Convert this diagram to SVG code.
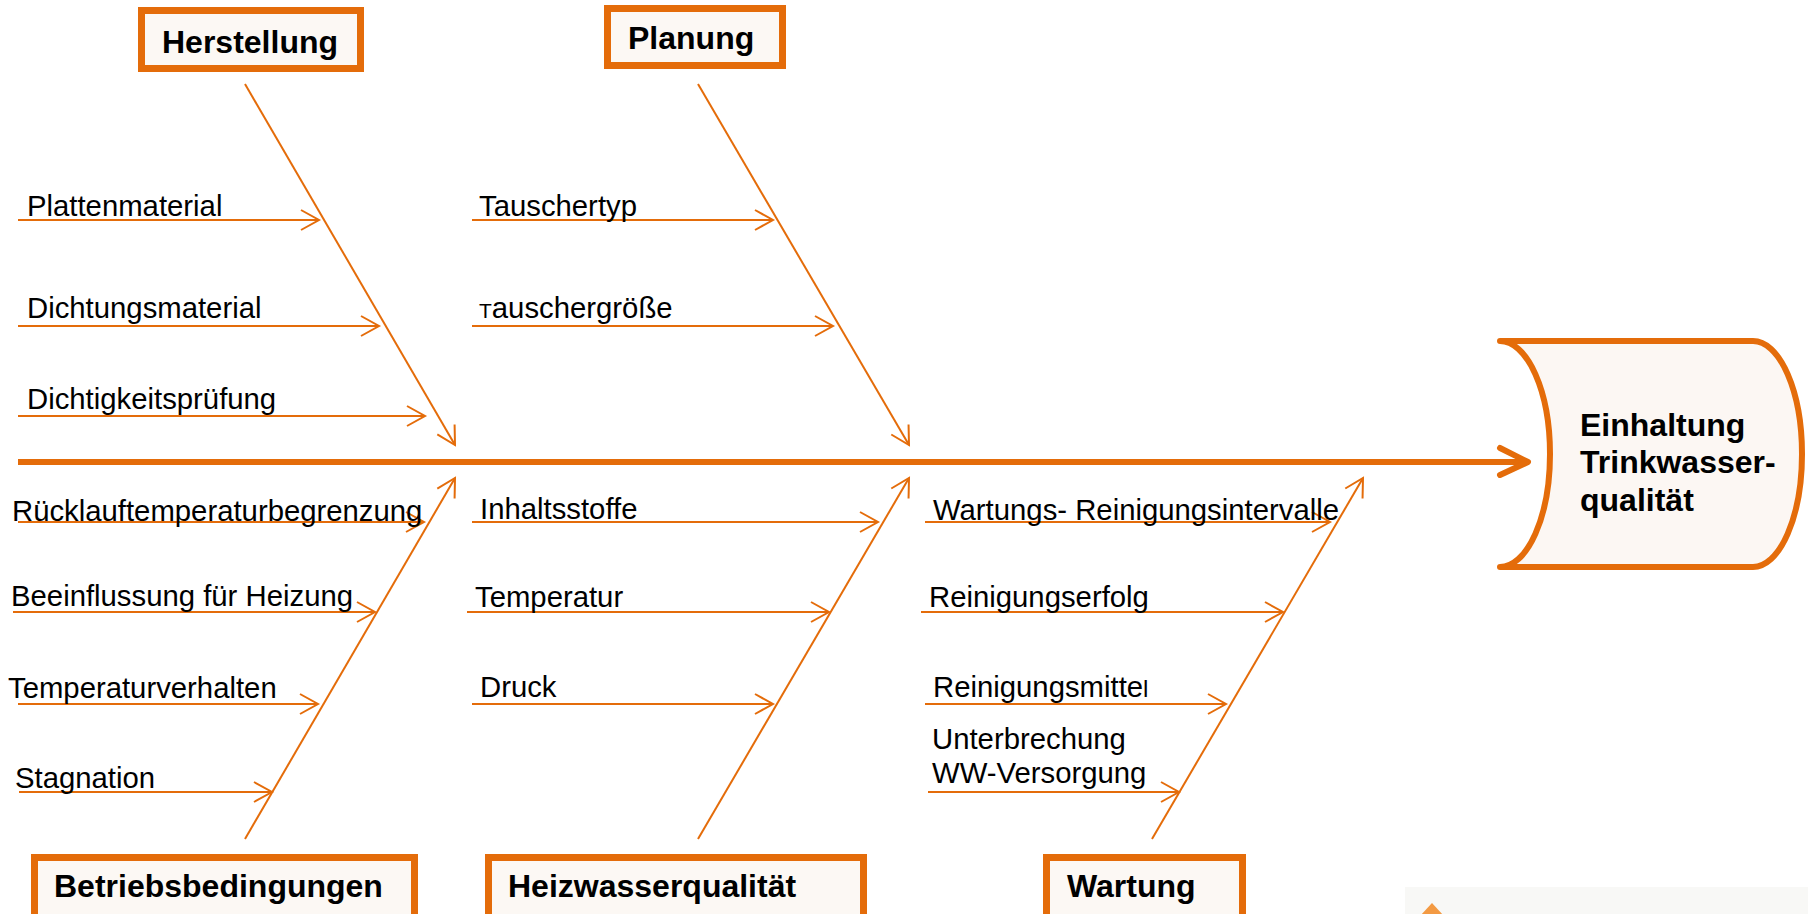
<svg xmlns="http://www.w3.org/2000/svg" width="1808" height="914" viewBox="0 0 1808 914">
<style>
.box{fill:#FCF8F4;stroke:#E46C0A;stroke-width:7}
.cat{font-family:"Liberation Sans",Arial,sans-serif;font-weight:bold;font-size:32px;fill:#000}
.lbl{font-family:"Liberation Sans",Arial,sans-serif;font-size:29.3px;fill:#000}
.bone{stroke:#E46C0A;stroke-width:2;fill:none;marker-end:url(#ah)}
.sub{stroke:#E46C0A;stroke-width:2;fill:none;marker-end:url(#ah)}
</style>
<defs>
<marker id="ah" markerUnits="userSpaceOnUse" viewBox="-24 -14 28 28" markerWidth="28" markerHeight="28" refX="0" refY="0" orient="auto" overflow="visible">
<path d="M-18,-10 L0,0 L-18,10" fill="none" stroke="#E46C0A" stroke-width="2"/>
</marker>
</defs>
<rect width="1808" height="914" fill="#FFFFFF"/>

<g id="connectors">
<path d="M18,462 L1526,462" stroke="#E46C0A" stroke-width="6" fill="none"/>
<path d="M1500,448 L1528,462 L1500,475" stroke="#E46C0A" stroke-width="6" fill="none" stroke-linecap="round" stroke-linejoin="round"/>
<line class="bone" x1="245" y1="84" x2="455" y2="445"/>
<line class="bone" x1="698" y1="84" x2="909" y2="445"/>
<line class="bone" x1="245" y1="839" x2="455" y2="478"/>
<line class="bone" x1="698" y1="839" x2="909" y2="478"/>
<line class="bone" x1="1152" y1="839" x2="1363" y2="478"/>
<line class="sub" x1="18" y1="220" x2="319" y2="220"/>
<line class="sub" x1="18" y1="326" x2="379" y2="326"/>
<line class="sub" x1="18" y1="416" x2="425" y2="416"/>
<line class="sub" x1="472" y1="220" x2="773" y2="220"/>
<line class="sub" x1="472" y1="326" x2="833" y2="326"/>
<line class="sub" x1="18" y1="522" x2="424" y2="522"/>
<line class="sub" x1="13" y1="612" x2="375" y2="612"/>
<line class="sub" x1="18" y1="704" x2="318" y2="704"/>
<line class="sub" x1="19" y1="792" x2="272" y2="792"/>
<line class="sub" x1="472" y1="522" x2="878" y2="522"/>
<line class="sub" x1="467" y1="612" x2="829" y2="612"/>
<line class="sub" x1="472" y1="704" x2="773" y2="704"/>
<line class="sub" x1="925" y1="522" x2="1330" y2="522"/>
<line class="sub" x1="921" y1="612" x2="1283" y2="612"/>
<line class="sub" x1="925" y1="704" x2="1226" y2="704"/>
<line class="sub" x1="928" y1="792" x2="1179" y2="792"/>
</g>

<g id="labels">
<text class="lbl" x="27" y="216">Plattenmaterial</text>
<text class="lbl" x="27" y="318">Dichtungsmaterial</text>
<text class="lbl" x="27" y="409">Dichtigkeitsprüfung</text>
<text class="lbl" x="479" y="216">Tauschertyp</text>
<text class="lbl" x="479" y="318"><tspan font-size="21">T</tspan>auschergröße</text>
<text class="lbl" x="12" y="521">Rücklauftemperaturbegrenzung</text>
<text class="lbl" x="11" y="606">Beeinflussung für Heizung</text>
<text class="lbl" x="8" y="698">Temperaturverhalten</text>
<text class="lbl" x="15" y="788">Stagnation</text>
<text class="lbl" x="480" y="519">Inhaltsstoffe</text>
<text class="lbl" x="475" y="607">Temperatur</text>
<text class="lbl" x="480" y="697">Druck</text>
<text class="lbl" x="933" y="520">Wartungs- Reinigungsintervalle</text>
<text class="lbl" x="929" y="607">Reinigungserfolg</text>
<text class="lbl" x="933" y="697">Reinigungsmitte<tspan font-size="24">l</tspan></text>
<text class="lbl" x="932" y="749">Unterbrechung</text>
<text class="lbl" x="932" y="783">WW-Versorgung</text>
</g>

<g id="herstellung">
<rect class="box" x="141.5" y="10.5" width="219" height="58"/>
<text class="cat" x="162" y="53">Herstellung</text>
</g>
<g id="planung">
<rect class="box" x="607.5" y="8.5" width="175" height="57"/>
<text class="cat" x="628" y="49">Planung</text>
</g>
<g id="betriebsbedingungen">
<rect class="box" x="34.5" y="857.5" width="380" height="80"/>
<text class="cat" x="54" y="897">Betriebsbedingungen</text>
</g>
<g id="heizwasserqualitaet">
<rect class="box" x="488.5" y="857.5" width="375" height="80"/>
<text class="cat" x="508" y="897">Heizwasserqualität</text>
</g>
<g id="wartung">
<rect class="box" x="1046.5" y="857.5" width="196" height="80"/>
<text class="cat" x="1067" y="897">Wartung</text>
</g>

<g id="effect">
<path d="M1500,341 L1753,341 A49,113 0 0 1 1753,567 L1500,567 A50,113 0 0 0 1500,341 Z" fill="#FCF7F3" stroke="#E46C0A" stroke-width="6" stroke-linejoin="round" stroke-linecap="round"/>
<text class="cat" x="1580" y="436">Einhaltung</text>
<text class="cat" x="1580" y="473">Trinkwasser-</text>
<text class="cat" x="1580" y="511">qualität</text>
</g>

<g id="corner">
<rect x="1405" y="887" width="403" height="27" fill="#F8F8F6"/>
<polygon points="1432,903 1444,916 1420,916" fill="#F39A43"/>
</g>
</svg>
